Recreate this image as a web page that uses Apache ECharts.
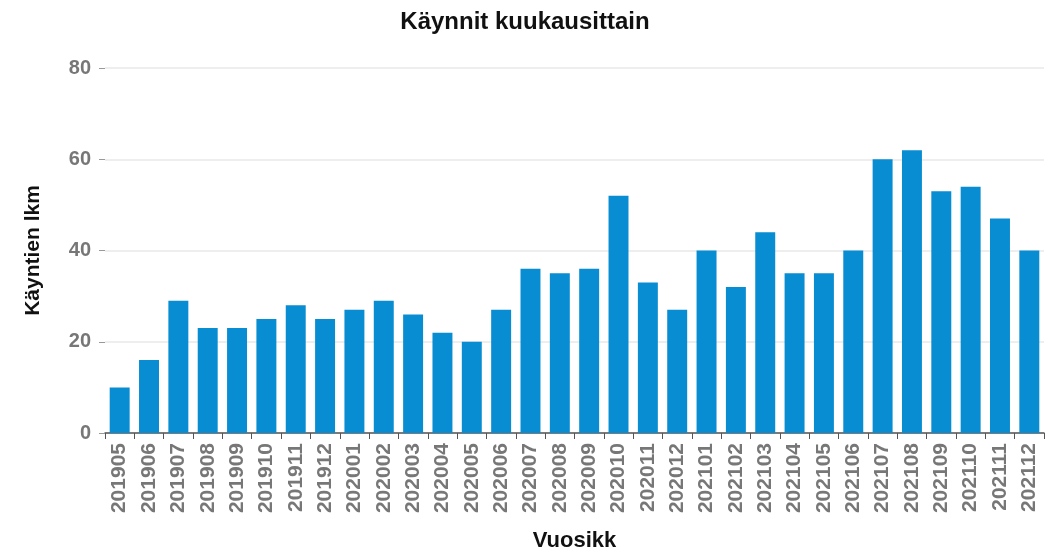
<!DOCTYPE html>
<html>
<head>
<meta charset="utf-8">
<script src="https://cdn.jsdelivr.net/npm/echarts@6/dist/echarts.min.js"></script>
<style>
  html, body { margin: 0; padding: 0; background: #fff; }
  #chart { width: 1050px; height: 553px; }
</style>
</head>
<body>
<div id="chart"></div>
<script>
  // kuukaudet (vuosi + kk)
  var months = ['201905', '201906', '201907', '201908', '201909', '201910', '201911', '201912',
    '202001', '202002', '202003', '202004', '202005', '202006', '202007', '202008', '202009', '202010', '202011', '202012',
    '202101', '202102', '202103', '202104', '202105', '202106', '202107', '202108', '202109', '202110', '202111', '202112']
  // käyntien lukumäärä
  var visits = [10, 16, 29, 23, 23, 25, 28, 25,
    27, 29, 26, 22, 20, 27, 36, 35, 36, 52, 33, 27,
    40, 32, 44, 35, 35, 40, 60, 62, 53, 54, 47, 40]
  var yTicks = [0, 20, 40, 60, 80]

  var chart = echarts.init(document.getElementById('chart'))
  var font = 'Liberation Sans, Arial, sans-serif'
  var option = {
    animation: false,
    textStyle: { fontFamily: font },
    title: {
      text: 'Käynnit kuukausittain',
      left: 'center',
      top: 5,
      textStyle: { fontSize: 24, fontWeight: 'bold', color: '#111', fontFamily: font }
    },
    grid: { left: 105, right: 6, top: 68, bottom: 120, outerBoundsMode: 'none' },
    xAxis: {
      type: 'category',
      data: months,
      name: 'Vuosikk',
      nameLocation: 'middle',
      nameGap: 97,
      nameTextStyle: { fontSize: 22, fontWeight: 'bold', color: '#111' },
      axisLine: { lineStyle: { color: '#555', width: 1.5 } },
      axisTick: { show: true, length: 6, lineStyle: { color: '#555' } },
      axisLabel: { rotate: 90, fontSize: 21, color: '#777', fontWeight: 'bold', margin: 10, interval: 0 }
    },
    yAxis: {
      type: 'value',
      min: yTicks[0],
      max: yTicks[yTicks.length - 1],
      interval: 20,
      name: 'Käyntien lkm',
      nameLocation: 'middle',
      nameGap: 61,
      nameTextStyle: { fontSize: 21, fontWeight: 'bold', color: '#111' },
      axisLine: { show: false },
      axisTick: { show: true, length: 6, lineStyle: { color: '#999' } },
      axisLabel: { fontSize: 20, color: '#777', fontWeight: 'bold', margin: 14 },
      splitLine: { lineStyle: { color: '#e8e8e8', width: 1.5 } }
    },
    series: [{
      type: 'bar',
      data: visits,
      barCategoryGap: '32%',
      itemStyle: { color: '#088cd2' }
    }]
  }
  chart.setOption(option)
</script>
</body>
</html>
